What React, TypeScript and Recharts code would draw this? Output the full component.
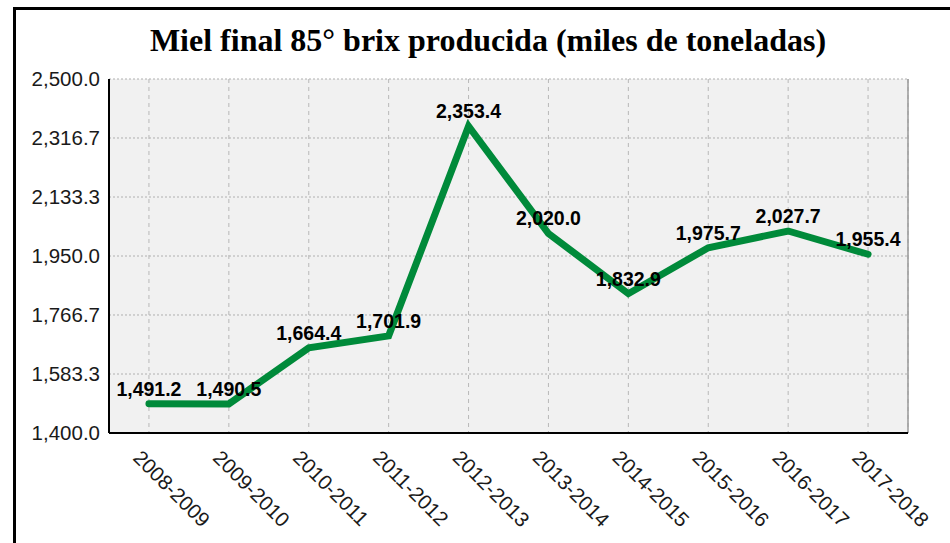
import { LineChart, Line, XAxis, YAxis, CartesianGrid, LabelList, ReferenceLine } from "recharts";

const seasons = [
  "2008-2009",
  "2009-2010",
  "2010-2011",
  "2011-2012",
  "2012-2013",
  "2013-2014",
  "2014-2015",
  "2015-2016",
  "2016-2017",
  "2017-2018",
];
const production = [1491.2, 1490.5, 1664.4, 1701.9, 2353.4, 2020.0, 1832.9, 1975.7, 2027.7, 1955.4];
const yTicks = [1400, 1583.3, 1766.7, 1950, 2133.3, 2316.7, 2500];

const data = seasons.map((name, i) => ({ idx: i, name, value: production[i] }));
const centerTicks = seasons.map((_, i) => i);
const edgeTicks = seasons.slice(1).map((_, i) => i + 0.5);

const FONT = '"Liberation Sans", Arial, Helvetica, sans-serif';
const fmt = (v: number) =>
  v.toLocaleString("en-US", { minimumFractionDigits: 1, maximumFractionDigits: 1 });

const SeasonTick = (props: any) => {
  const { x, y, payload } = props;
  const ax = x - 17;
  const ay = y + 26;
  return (
    <text
      x={ax}
      y={ay}
      transform={`rotate(45, ${ax}, ${ay})`}
      textAnchor="start"
      fontFamily={FONT}
      fontSize={20.5}
      fill="#1a1a1a"
    >
      {seasons[payload.value]}
    </text>
  );
};

const EdgeTick = (props: any) => {
  const { x, y } = props;
  return <line x1={x} x2={x} y1={y} y2={y - 5} stroke="#000" strokeWidth={1.5} />;
};

export default function App() {
  return (
    <div
      style={{
        position: "fixed",
        left: 0,
        top: 0,
        width: 950,
        height: 543,
        overflow: "hidden",
        background: "#fff",
      }}
    >
      <div
        style={{
          position: "absolute",
          left: 13,
          top: 7,
          width: 960,
          height: 560,
          border: "3px solid #000",
        }}
      />
      <div
        style={{
          position: "absolute",
          left: 0,
          top: 22,
          width: 976,
          textAlign: "center",
          fontFamily: '"Liberation Serif", "DejaVu Serif", serif',
          fontWeight: "bold",
          fontSize: 32,
          lineHeight: "36px",
          color: "#000",
        }}
      >
        Miel final 85° brix producida (miles de toneladas)
      </div>
      <div style={{ position: "absolute", left: 0, top: 0 }}>
        <LineChart
          width={950}
          height={543}
          data={data}
          margin={{ top: 79, right: 42, bottom: 0, left: 0 }}
        >
          <CartesianGrid
            horizontal={true}
            vertical={false}
            fill="#f1f1f1"
            stroke="#b0b0b0"
            strokeDasharray="2 2"
          />
          <CartesianGrid horizontal={false} vertical={true} stroke="#b8b8b8" strokeDasharray="4 4" />
          <XAxis
            xAxisId="edge"
            dataKey="idx"
            type="number"
            domain={[-0.5, 9.5]}
            ticks={edgeTicks}
            interval={0}
            height={0}
            axisLine={false}
            tickLine={false}
            tickSize={0}
            tickMargin={0}
            tick={<EdgeTick />}
          />
          <XAxis
            dataKey="idx"
            type="number"
            domain={[-0.5, 9.5]}
            ticks={centerTicks}
            interval={0}
            height={110}
            axisLine={{ stroke: "#000", strokeWidth: 2 }}
            tickLine={false}
            tickSize={0}
            tickMargin={0}
            tick={<SeasonTick />}
          />
          <YAxis
            type="number"
            domain={[1400, 2500]}
            ticks={yTicks}
            interval={0}
            width={109}
            axisLine={{ stroke: "#000", strokeWidth: 2 }}
            tickLine={false}
            tickSize={0}
            tickMargin={9}
            tickFormatter={fmt}
            tick={{ fontFamily: FONT, fontSize: 20.5, fill: "#1a1a1a" }}
          />
          <ReferenceLine x={9.5} stroke="#999" strokeWidth={1.5} />
          <Line
            type="linear"
            dataKey="value"
            stroke="#008a3a"
            strokeWidth={7}
            strokeLinecap="round"
            dot={false}
            activeDot={false}
            isAnimationActive={false}
          >
            <LabelList
              dataKey="value"
              position="top"
              offset={8}
              formatter={(v: any) => fmt(Number(v))}
              style={{ fontFamily: FONT, fontSize: 19.5, fontWeight: "bold", fill: "#000" }}
            />
          </Line>
        </LineChart>
      </div>
    </div>
  );
}
